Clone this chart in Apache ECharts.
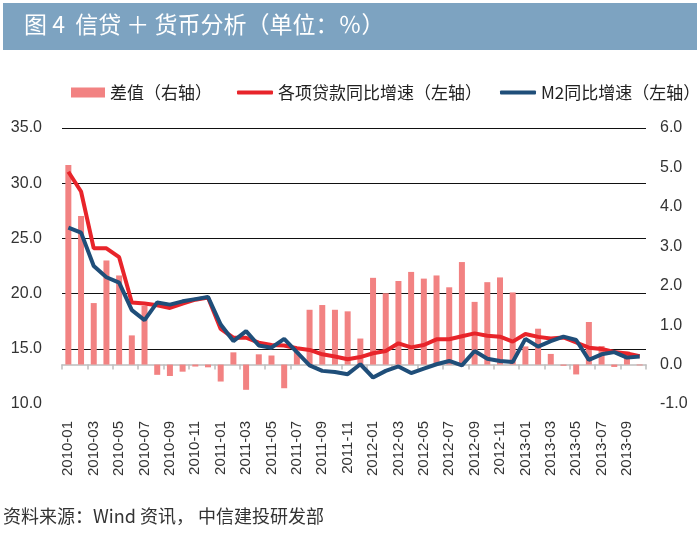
<!DOCTYPE html>
<html>
<head>
<meta charset="utf-8">
<script src="https://cdn.jsdelivr.net/npm/echarts@6/dist/echarts.min.js"></script>
<style>html,body{margin:0;padding:0;background:#fff;}#c{width:700px;height:537px;}</style>
</head>
<body>
<div id="c"></div>
<script>
var categories = ['2010-01','2010-02','2010-03','2010-04','2010-05','2010-06','2010-07','2010-08','2010-09','2010-10','2010-11','2010-12',
'2011-01','2011-02','2011-03','2011-04','2011-05','2011-06','2011-07','2011-08','2011-09','2011-10','2011-11','2011-12',
'2012-01','2012-02','2012-03','2012-04','2012-05','2012-06','2012-07','2012-08','2012-09','2012-10','2012-11','2012-12',
'2013-01','2013-02','2013-03','2013-04','2013-05','2013-06','2013-07','2013-08','2013-09','2013-10'];
var diffValues = [5.06,3.77,1.56,2.64,2.26,0.74,1.49,-0.26,-0.29,-0.18,-0.05,-0.07,
-0.43,0.31,-0.64,0.26,0.23,-0.60,0.33,1.39,1.51,1.39,1.35,0.66,
2.20,1.81,2.12,2.35,2.18,2.26,1.96,2.60,1.59,2.09,2.21,1.83,
0.46,0.91,0.27,-0.03,-0.25,1.08,0.47,-0.06,0.33,-0.02];
var loanValues = [31.04,29.25,24.1,24.1,23.3,19.2,19.1,18.95,18.7,19.1,19.45,19.65,
16.8,16.0,16.0,15.55,15.35,15.3,15.05,14.9,14.5,14.3,14.05,14.25,
14.6,14.8,15.5,15.13,15.34,15.86,15.86,16.14,16.4,16.19,16.1,15.65,
16.34,16.08,15.94,16.03,15.57,15.1,14.98,14.72,14.57,14.32];
var m2Values = [25.98,25.52,22.5,21.48,21.0,18.5,17.6,19.2,19.0,19.3,19.5,19.7,
17.2,15.7,16.6,15.3,15.1,15.9,14.7,13.5,13.0,12.9,12.7,13.6,
12.4,13.0,13.4,12.8,13.2,13.6,13.9,13.5,14.8,14.1,13.9,13.8,
15.9,15.2,15.7,16.1,15.8,14.0,14.5,14.7,14.2,14.3];
var leftTicks = {min: 10, max: 35, interval: 5};
var rightTicks = {min: -1, max: 6, interval: 1};
var titleText = '图 4  信贷 ＋ 货币分析（单位：％）';
var sourceText = '资料来源：Wind 资讯， 中信建投研发部';
var seriesNames = ['差值（右轴）', '各项贷款同比增速（左轴）', 'M2同比增速（左轴）'];

var chart = echarts.init(document.getElementById('c'), null, {renderer: 'canvas'});
var cjk = '"Noto Sans CJK SC", "Noto Sans", sans-serif';
var latin = '"Liberation Sans", Arial, sans-serif';
function legendAt(left, name, isLine) {
  return {
    data: [name], left: left, top: 84, padding: 0, itemGap: 0,
    itemWidth: isLine ? 36 : 34, itemHeight: isLine ? 4 : 10,
    icon: isLine ? 'roundRect' : 'rect',
    textStyle: {fontFamily: cjk, fontSize: 17, color: '#222'}, selectedMode: false
  };
}
var option = {
  animation: false,
  backgroundColor: '#fff',
  graphic: [
    {type: 'rect', shape: {x: 3, y: 3, width: 694, height: 47}, style: {fill: '#7DA3C1'}, z: -1},
    {type: 'text', left: 24, top: 13, style: {text: titleText, fill: '#fff', font: '23px ' + cjk}},
    {type: 'text', left: 3, top: 507, style: {text: sourceText, fill: '#333', font: '18px ' + cjk}}
  ],
  legend: [legendAt(71, seriesNames[0], false), legendAt(237, seriesNames[1], true), legendAt(500, seriesNames[2], true)],
  grid: {left: 62, right: 54, top: 128, bottom: 133, containLabel: false},
  xAxis: {
    type: 'category', data: categories, boundaryGap: true,
    axisLine: {lineStyle: {color: '#bdbdbd', width: 1.5}},
    axisTick: {show: true, interval: 1, length: 5, lineStyle: {color: '#bdbdbd', width: 1.5}},
    axisLabel: {interval: 1, rotate: 90, margin: 17, fontFamily: latin, fontSize: 15, color: '#333'},
    splitLine: {show: false}
  },
  yAxis: [
    {
      type: 'value', min: leftTicks.min, max: leftTicks.max, interval: leftTicks.interval, position: 'left',
      axisLine: {show: false}, axisTick: {show: false},
      axisLabel: {margin: 20, fontFamily: latin, fontSize: 16, color: '#333', formatter: function (v) { return v.toFixed(1); }},
      splitLine: {show: true, showMinLine: false, lineStyle: {color: '#111', width: 1}}
    },
    {
      type: 'value', min: rightTicks.min, max: rightTicks.max, interval: rightTicks.interval, position: 'right',
      axisLine: {show: false}, axisTick: {show: false},
      axisLabel: {margin: 14, fontFamily: latin, fontSize: 16, color: '#333', formatter: function (v) { return v.toFixed(1); }},
      splitLine: {show: false}
    }
  ],
  series: [
    {name: seriesNames[0], type: 'bar', yAxisIndex: 1, data: diffValues, barWidth: 6,
     itemStyle: {color: '#F28282'}, z: 1},
    {name: seriesNames[1], type: 'line', yAxisIndex: 0, data: loanValues, symbol: 'none', showSymbol: false,
     lineStyle: {color: '#E8242A', width: 4}, itemStyle: {color: '#E8242A'}, z: 2},
    {name: seriesNames[2], type: 'line', yAxisIndex: 0, data: m2Values, symbol: 'none', showSymbol: false,
     lineStyle: {color: '#1F4E79', width: 4}, itemStyle: {color: '#1F4E79'}, z: 3}
  ]
};
chart.setOption(option);
</script>
</body>
</html>
